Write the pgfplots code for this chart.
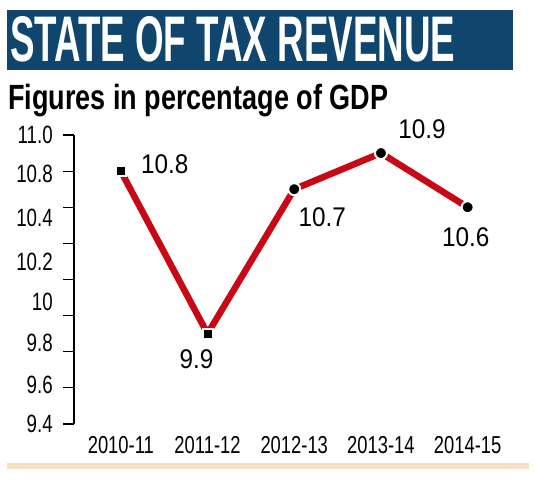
\documentclass[border=0pt]{standalone}
\usepackage{pgfplots}
\pgfplotsset{compat=1.18}
\usepackage{fontspec}
\setmainfont{Liberation Sans}
\newfontfamily\mytickfont{Liberation Sans}[FakeStretch=0.75]
\newfontfamily\mylabfont{Liberation Sans}[FakeStretch=0.9]
\definecolor{titleblue}{RGB}{16,70,110}
\definecolor{linered}{RGB}{200,8,20}
\definecolor{tanbar}{RGB}{246,224,196}
\begin{document}
\begin{tikzpicture}[x=1bp,y=1bp]
\useasboundingbox (0,0) rectangle (538,480);
\fill[titleblue] (7,410) rectangle (513,470);
\node[anchor=south west, inner sep=0pt, text=white] at (10,418) {\resizebox{445bp}{45bp}{\bfseries STATE OF TAX REVENUE}};
\node[anchor=base west, inner sep=0pt] at (8,370) {\resizebox{380bp}{\height}{\fontsize{35bp}{40bp}\selectfont\bfseries Figures in percentage of GDP}};
\fill[tanbar] (7,11) rectangle (529,17);
\begin{axis}[
  at={(74bp,56bp)}, anchor=south west, scale only axis,
  width=437bp, height=289bp,
  xmin=-0.54, xmax=4.5, ymin=9.4, ymax=11.0,
  clip=false,
  axis x line=bottom, axis y line=left,
  axis line style={-, line width=1.1bp, black},
  x axis line style={draw=none},
  tick align=outside, major tick length=11bp, minor tick length=11bp,
  major tick style={draw=none},
  minor tick style={black, line width=1.1bp},
  xtick={0,1,2,3,4},
  xticklabels={2010-11,2011-12,2012-13,2013-14,2014-15},
  xticklabel style={font=\mytickfont\fontsize{24.5bp}{27bp}\selectfont, inner sep=0pt, anchor=north, yshift=-1bp},
  ytick={11.0,10.782,10.539,10.299,10.077,9.847,9.616,9.4},
  yticklabels={11.0,10.8,10.4,10.2,10,9.8,9.6,9.4},
  minor ytick={9.4,9.6,9.8,10,10.2,10.4,10.6,10.8,11},
  yticklabel style={font=\mytickfont\fontsize{25bp}{28bp}\selectfont, inner sep=0pt, anchor=east, xshift=-10bp},
]
\addplot[linered, line width=6.5bp] coordinates {(0,10.8) (1,9.9) (2,10.7) (3,10.9) (4,10.6)};
\addplot[only marks, mark=square*, mark size=5bp, mark options={fill=black, draw=white, line width=2bp}] coordinates {(0,10.8) (1,9.9)};
\addplot[only marks, mark=*, mark size=6bp, mark options={fill=black, draw=white, line width=2bp}] coordinates {(2,10.7) (3,10.9) (4,10.6)};
\node[font=\mylabfont\fontsize{27bp}{30bp}\selectfont, inner sep=0pt, xshift=44bp, yshift=7bp] at (axis cs:0,10.8) {10.8};
\node[font=\mylabfont\fontsize{27bp}{30bp}\selectfont, inner sep=0pt, xshift=-11bp, yshift=-26bp] at (axis cs:1,9.9) {9.9};
\node[font=\mylabfont\fontsize{27bp}{30bp}\selectfont, inner sep=0pt, xshift=28bp, yshift=-28bp] at (axis cs:2,10.7) {10.7};
\node[font=\mylabfont\fontsize{27bp}{30bp}\selectfont, inner sep=0pt, xshift=41bp, yshift=24bp] at (axis cs:3,10.9) {10.9};
\node[font=\mylabfont\fontsize{27bp}{30bp}\selectfont, inner sep=0pt, xshift=-2bp, yshift=-30bp] at (axis cs:4,10.6) {10.6};
\end{axis}
\end{tikzpicture}
\end{document}
